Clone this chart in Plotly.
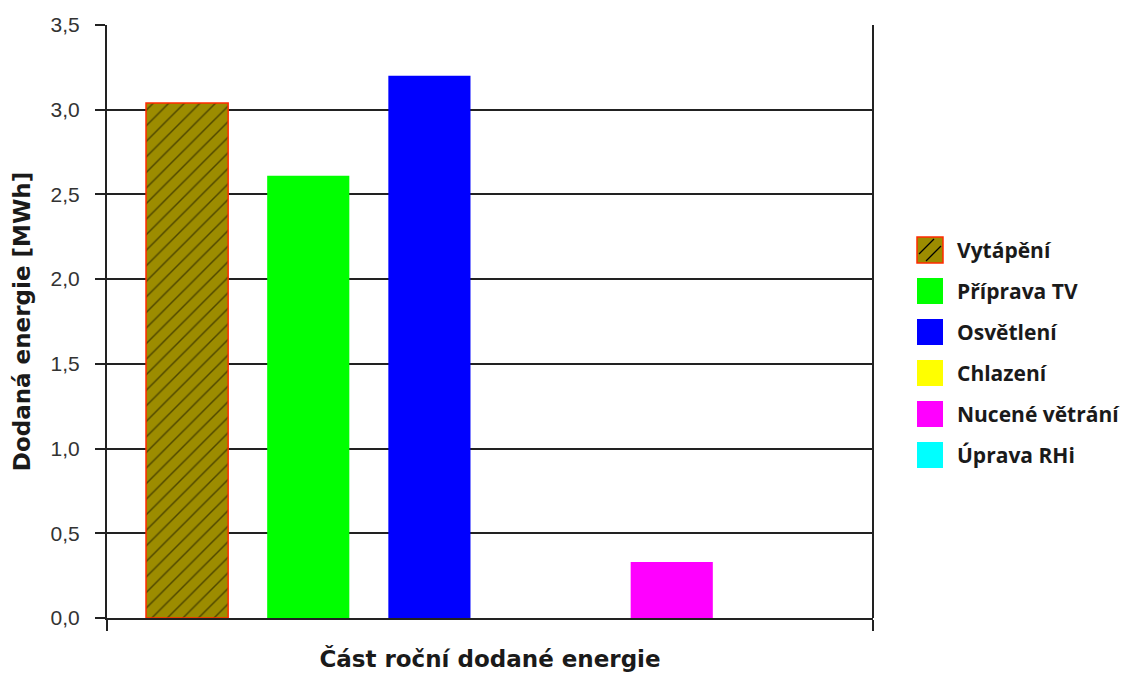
import plotly.graph_objects as go

# Roční dodaná energie podle účelu [MWh]
kategorie = ["Vytápění", "Příprava TV", "Osvětlení", "Chlazení", "Nucené větrání", "Úprava RHi"]
hodnoty = [3.04, 2.61, 3.20, 0.0, 0.33, 0.0]
barvy = ["#9c8c00", "#00ff00", "#0000ff", "#ffff00", "#ff00ff", "#00ffff"]
y_ticks = [0.0, 0.5, 1.0, 1.5, 2.0, 2.5, 3.0, 3.5]

OKRAJ = "#ff2a00"      # obrys šrafovaného sloupce
CARA = "#222222"

fig = go.Figure()
for i, (nazev, hodnota, barva) in enumerate(zip(kategorie, hodnoty, barvy)):
    marker = dict(color=barva, line=dict(width=0))
    if i == 0:
        marker = dict(
            color=barva,
            line=dict(color=OKRAJ, width=1.5),
            pattern=dict(shape="/", fgcolor="#000000", bgcolor=barva, size=11, solidity=0.13),
        )
    fig.add_trace(go.Bar(
        x=[i], y=[hodnota], name=nazev, marker=marker, width=0.678,
        hoverinfo="skip", showlegend=False,
    ))

# vlastní legenda: čtvercové vzorky a popisky vpravo od grafu
plocha_h = 677 - 25 - 59
plocha_w = 1127 - 107 - 254
leg_x = (917 - 107) / plocha_w
krok = 41
vzorek = 26
for i, (nazev, barva) in enumerate(zip(kategorie, barvy)):
    yc = (618 - (250 + i * krok)) / plocha_h
    obrys = dict(color=OKRAJ, width=1.5) if i == 0 else dict(width=0)
    fig.add_shape(
        type="rect", xref="paper", yref="paper",
        xsizemode="pixel", ysizemode="pixel", xanchor=leg_x, yanchor=yc,
        x0=0, x1=vzorek, y0=-vzorek / 2, y1=vzorek / 2,
        fillcolor=barva, line=obrys, layer="above",
    )
    if i == 0:
        for d in (-7, 7):
            fig.add_shape(
                type="line", xref="paper", yref="paper",
                xsizemode="pixel", ysizemode="pixel", xanchor=leg_x, yanchor=yc,
                x0=2 + max(0, d), x1=vzorek - 2 + min(0, d),
                y0=-vzorek / 2 + 2 + max(0, -d), y1=vzorek / 2 - 2 - max(0, d),
                line=dict(color="#000000", width=1.3), layer="above",
            )
    fig.add_annotation(
        xref="paper", yref="paper", x=(955 - 107) / plocha_w, y=yc,
        text=nazev, showarrow=False, xanchor="left", yanchor="middle",
        font=dict(family="Open Sans", size=21, color="#1a1a1a", weight="bold"),
    )

fig.update_layout(
    width=1127, height=677,
    margin=dict(l=107, r=254, t=25, b=59),
    paper_bgcolor="white", plot_bgcolor="white",
    separators=", ",
    showlegend=False,
    font=dict(family="Liberation Sans, Arial", color="#222222"),
)

fig.update_xaxes(
    range=[-0.661, 5.661], showgrid=False, zeroline=False,
    tickvals=[-0.661, 5.661], ticktext=["", ""], ticks="outside", ticklen=11,
    tickcolor=CARA, tickwidth=2,
    showline=True, linecolor=CARA, linewidth=2, mirror=False,
    title=dict(text="Část roční dodané energie", standoff=18,
               font=dict(size=23, family="DejaVu Sans", color="#1a1a1a", weight="bold")),
)
fig.update_yaxes(
    range=[0, 3.5], tickvals=y_ticks, tickformat=".1f",
    showgrid=True, gridcolor=CARA, gridwidth=1.5,
    zeroline=False, showline=True, linecolor=CARA, linewidth=2,
    ticks="outside", ticklen=10, tickcolor=CARA, tickwidth=1.5,
    ticklabelstandoff=11,
    tickfont=dict(size=21, family="Liberation Sans, Arial", color="#333333"),
    title=dict(text="Dodaná energie [MWh]", standoff=14,
               font=dict(size=23, family="DejaVu Sans", color="#1a1a1a", weight="bold")),
)

# pravá svislá hranice oblasti grafu
fig.add_shape(type="line", xref="paper", yref="paper", x0=1, x1=1, y0=0, y1=1,
              line=dict(color=CARA, width=2))

fig.write_html("out.html")
